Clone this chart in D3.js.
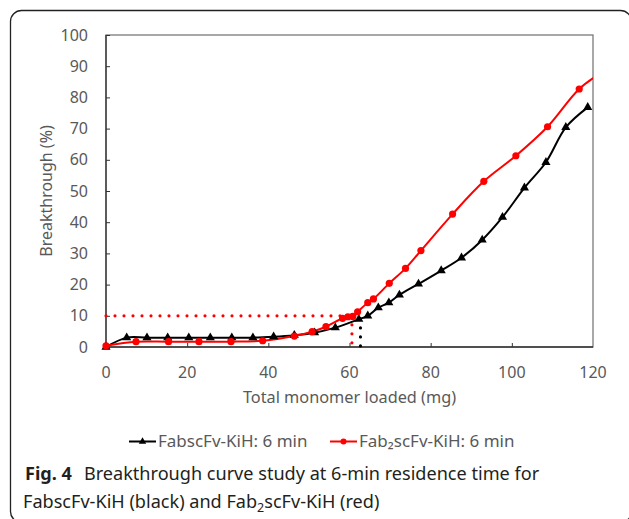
<!DOCTYPE html>
<html>
<head>
<meta charset="utf-8">
<script src="https://cdn.jsdelivr.net/npm/d3@7"></script>
<style>
  body { margin: 0; background: #fff; }
  svg { display: block; }
  text { font-family: "Noto Sans", sans-serif; }
</style>
</head>
<body>
<div id="chart"></div>
<script>
// series
var blackX = [0, 5.1, 10.1, 15.2, 20.4, 25.7, 31, 36.2, 41.3, 46.4, 51.4, 56.5, 62.3, 64.5, 67.1, 69.7, 72.3, 77.0, 82.6, 87.6, 92.7, 97.7, 103.1, 108.4, 113.3, 118.7];
var blackY = [0, 3.0, 3.0, 3.0, 3.0, 3.0, 3.0, 3.0, 3.3, 3.8, 4.6, 6.2, 8.9, 10.0, 12.6, 14.2, 16.7, 20.2, 24.5, 28.6, 34.3, 41.6, 51.0, 59.2, 70.4, 76.8];

var redX = [0, 7.4, 15.4, 22.9, 30.8, 38.6, 46.4, 50.8, 54.2, 58.3, 59.6, 60.8, 62.0, 64.5, 65.9, 69.8, 73.8, 77.6, 85.4, 93.1, 101.0, 108.8, 116.6, 122];
var redY = [0.4, 1.7, 1.7, 1.7, 1.7, 2.0, 3.5, 4.9, 6.5, 9.2, 9.7, 9.8, 11.3, 14.2, 15.4, 20.4, 25.2, 30.9, 42.6, 53.1, 61.3, 70.6, 82.7, 87.8];

// 10% breakthrough guides
var redGuideX = 60.6, redGuideY = 10;
var blackGuideX = 62.7, blackGuideY = 9;

var xTicks = [0, 20, 40, 60, 80, 100, 120];
var yTicks = [0, 10, 20, 30, 40, 50, 60, 70, 80, 90, 100];

var seriesNames = ["FabscFv-KiH: 6 min", "Fab\u2082scFv-KiH: 6 min"];

var width = 629, height = 519;
var margin = {top: 35, right: 36, bottom: 172, left: 106};

var svg = d3.select("#chart").append("svg")
    .attr("width", width)
    .attr("height", height);

// outer figure frame
svg.append("rect")
    .attr("x", 10.5).attr("y", 10.5)
    .attr("width", 621).attr("height", 512)
    .attr("rx", 11)
    .style("fill", "none")
    .style("stroke", "#222")
    .style("stroke-width", 1.3);

var x = d3.scaleLinear().domain([0, 120]).range([margin.left, width - margin.right]);
var y = d3.scaleLinear().domain([0, 100]).range([height - margin.bottom, margin.top]);

var axisColor = "#595959";

// plot box
svg.append("rect")
    .attr("x", x(0)).attr("y", y(100))
    .attr("width", x(120) - x(0)).attr("height", y(0) - y(100))
    .style("fill", "none")
    .style("stroke", "#6e6e6e")
    .style("stroke-width", 1.2);

var yAxis = svg.append("g")
    .attr("transform", "translate(" + x(0) + ",0)")
    .call(d3.axisRight(y).tickValues(yTicks).tickSize(4).tickFormat(""));
yAxis.select(".domain").remove();
yAxis.selectAll("line").style("stroke", "#333");

yAxis.selectAll(".lbl")
    .data(yTicks)
    .enter().append("text")
    .attr("x", -18)
    .attr("y", function(d) { return y(d); })
    .attr("dy", "0.35em")
    .attr("text-anchor", "end")
    .style("font-size", "16px")
    .style("fill", axisColor)
    .text(function(d) { return d; });

var xAxis = svg.append("g")
    .attr("transform", "translate(0," + y(0) + ")")
    .call(d3.axisTop(x).tickValues(xTicks.slice(1, -1)).tickSize(4).tickFormat(""));
xAxis.select(".domain").remove();
xAxis.selectAll("line").style("stroke", "#333");

xAxis.selectAll(".lbl")
    .data(xTicks)
    .enter().append("text")
    .attr("x", function(d) { return x(d); })
    .attr("y", 25)
    .attr("dy", "0.35em")
    .attr("text-anchor", "middle")
    .style("font-size", "16px")
    .style("fill", axisColor)
    .text(function(d) { return d; });

// axis lines on top of box
svg.append("line")
    .attr("x1", x(0)).attr("x2", x(0)).attr("y1", y(0)).attr("y2", y(100))
    .style("stroke", "#333").style("stroke-width", 1.3);
svg.append("line")
    .attr("x1", x(0)).attr("x2", x(120)).attr("y1", y(0)).attr("y2", y(0))
    .style("stroke", "#333").style("stroke-width", 1.3);

svg.append("text")
    .attr("transform", "translate(46," + ((y(0) + y(100)) / 2) + ") rotate(-90)")
    .attr("text-anchor", "middle")
    .attr("dy", "0.35em")
    .style("font-size", "16px")
    .style("fill", axisColor)
    .text("Breakthrough (%)");

svg.append("text")
    .attr("x", (x(0) + x(120)) / 2)
    .attr("y", 397)
    .attr("dy", "0.35em")
    .attr("text-anchor", "middle")
    .style("font-size", "16.3px")
    .style("fill", axisColor)
    .text("Total monomer loaded (mg)");

// clip to plot area
svg.append("clipPath").attr("id", "plotclip")
  .append("rect")
    .attr("x", x(0) - 6).attr("y", y(100))
    .attr("width", x(120) - x(0) + 6).attr("height", y(0) - y(100) + 6);

var plot = svg.append("g").attr("clip-path", "url(#plotclip)");

// dotted guides
var dotStyle = function(sel, col) {
  sel.style("stroke", col)
     .style("stroke-width", 3.2)
     .style("stroke-linecap", "round")
     .style("stroke-dasharray", "0 9")
     .style("fill", "none");
};
plot.append("line")
    .attr("x1", x(0)).attr("x2", x(redGuideX))
    .attr("y1", y(redGuideY)).attr("y2", y(redGuideY))
    .call(dotStyle, "#ff0000");
plot.append("line")
    .attr("x1", x(redGuideX)).attr("x2", x(redGuideX))
    .attr("y1", y(redGuideY)).attr("y2", y(0))
    .call(dotStyle, "#ff0000");
plot.append("line")
    .attr("x1", x(blackGuideX)).attr("x2", x(blackGuideX))
    .attr("y1", y(blackGuideY)).attr("y2", y(0))
    .call(dotStyle, "#000");

var line = d3.line()
    .x(function(d) { return x(d[0]); })
    .y(function(d) { return y(d[1]); })
    .curve(d3.curveCatmullRom.alpha(0.5));

var blackData = blackX.map(function(v, i) { return [v, blackY[i]]; });
var redData = redX.map(function(v, i) { return [v, redY[i]]; });

var tri = d3.symbol().type(d3.symbolTriangle).size(36);

plot.append("path")
    .datum(blackData)
    .attr("d", line)
    .style("fill", "none")
    .style("stroke", "#000")
    .style("stroke-width", 2);

plot.append("path")
    .datum(redData)
    .attr("d", line)
    .style("fill", "none")
    .style("stroke", "#ff0000")
    .style("stroke-width", 2);

plot.selectAll(".tri")
    .data(blackData)
    .enter().append("path")
    .attr("class", "tri")
    .attr("d", tri)
    .attr("transform", function(d) { return "translate(" + x(d[0]) + "," + y(d[1]) + ")"; })
    .style("fill", "#000");

plot.selectAll(".dot")
    .data(redData)
    .enter().append("circle")
    .attr("class", "dot")
    .attr("cx", function(d) { return x(d[0]); })
    .attr("cy", function(d) { return y(d[1]); })
    .attr("r", 3.6)
    .style("fill", "#ff0000");

// legend
var legend = svg.append("g");
var legItems = [
  {x: 129, col: "#000", type: "tri"},
  {x: 330, col: "#ff0000", type: "dot"}
];
legItems.forEach(function(item, i) {
  var g = legend.append("g").attr("transform", "translate(" + item.x + ",441.5)");
  g.append("line").attr("x1", 0).attr("x2", 27)
      .style("stroke", item.col).style("stroke-width", 2);
  if (item.type == "tri") {
    g.append("path").attr("d", d3.symbol().type(d3.symbolTriangle).size(24))
      .attr("transform", "translate(13.5,0)").style("fill", item.col);
  } else {
    g.append("circle").attr("cx", 13.5).attr("r", 3).style("fill", item.col);
  }
  g.append("text").attr("x", 29).attr("dy", "0.35em")
      .style("font-size", "17px").style("fill", axisColor)
      .text(seriesNames[i]);
});

// caption
var cap1 = svg.append("text").attr("x", 25).attr("y", 480)
    .style("font-size", "18.1px").style("fill", "#231f20");
cap1.append("tspan").style("font-weight", "bold").text("Fig. 4");
cap1.append("tspan").attr("dx", 12).text("Breakthrough curve study at 6-min residence time for");

var cap2 = svg.append("text").attr("x", 23).attr("y", 508)
    .style("font-size", "18.1px").style("fill", "#231f20");
cap2.append("tspan").text("FabscFv-KiH (black) and Fab");
cap2.append("tspan").attr("dy", 4).style("font-size", "12.5px").text("2");
cap2.append("tspan").attr("dy", -4).text("scFv-KiH (red)");
</script>
</body>
</html>
